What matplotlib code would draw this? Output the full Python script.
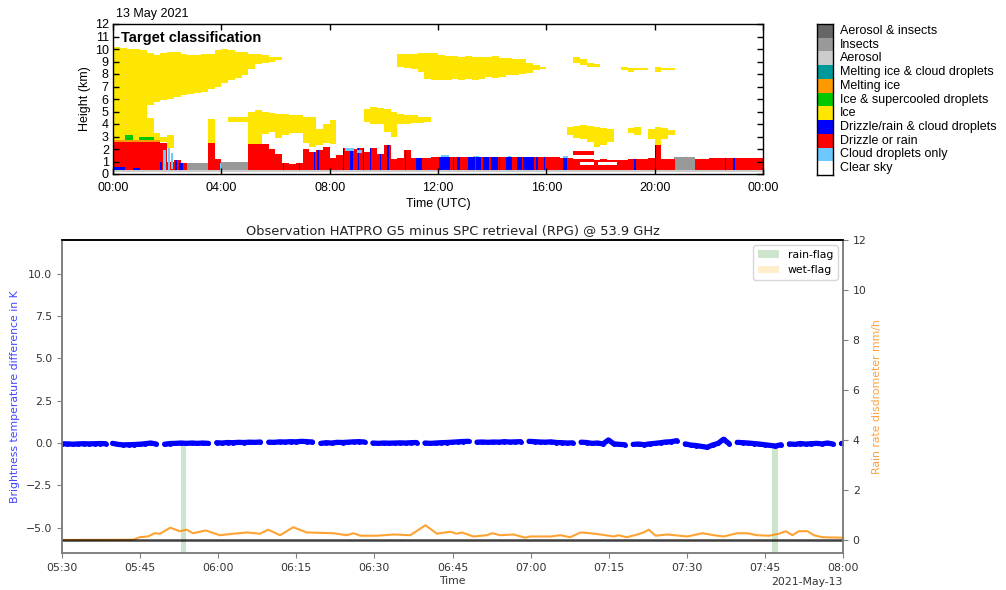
import numpy as np
import matplotlib
matplotlib.use("Agg")
import matplotlib.pyplot as plt
import matplotlib.dates as mdates
from matplotlib.colors import ListedColormap
from matplotlib.patches import Patch

# ======================= TOP PANEL DATA (Cloudnet target classification) =======================
class_labels = ["Clear sky", "Cloud droplets only", "Drizzle or rain",
                "Drizzle/rain & cloud droplets", "Ice", "Ice & supercooled droplets",
                "Melting ice", "Melting ice & cloud droplets", "Aerosol", "Insects",
                "Aerosol & insects"]
class_colors = ["#ffffff", "#6cc8ff", "#ff0000", "#0000ff", "#ffe600", "#00c800",
                "#ff9900", "#009999", "#cccccc", "#999999", "#666666"]

# 15-minute columns, 00:00 ... 23:45 (km)
rain_top = [2.55, 2.55, 2.55, 2.55, 2.55, 2.55, 2.55, 2.50,   # 00:00-01:45
            1.0, 1.1, 0.9, 0, 0, 0, 2.5, 1.2,                 # 02:00-03:45
            0, 0, 0, 0, 2.4, 2.4, 2.4, 2.0,                   # 04:00-05:45
            1.6, 0.9, 0.8, 0.9, 2.0, 1.8, 1.9, 2.2,           # 06:00-07:45
            1.3, 1.5, 2.1, 2.0, 2.1, 1.8, 2.1, 1.6,           # 08:00-09:45
            2.3, 1.2, 1.25, 1.9, 1.25, 1.3, 1.3, 1.35,        # 10:00-11:45
            1.38, 1.4, 1.38, 1.36, 1.4, 1.38, 1.36, 1.38,     # 12:00-13:45
            1.4, 1.38, 1.4, 1.38, 1.36, 1.38, 1.4, 1.38,      # 14:00-15:45
            1.35, 1.35, 1.3, 1.3, 1.2, 1.2, 1.2, 1.15,        # 16:00-17:45
            1.2, 1.15, 1.15, 1.15, 1.2, 1.2, 1.2, 1.25,       # 18:00-19:45
            2.3, 1.2, 1.2, 0, 0, 0, 1.2, 1.2,                 # 20:00-21:45
            1.25, 1.25, 1.3, 1.3, 1.3, 1.3, 1.3, 1.3]         # 22:00-23:45

nan = np.nan
ice_hi_base = [2.7, 2.7, 2.7, 2.7, 2.7, 5.5, 5.8, 5.9, 6.0, 6.2, 6.3, 6.4, 6.5, 6.6, 6.8, 7.0,
               7.3, 7.5, 7.7, 7.9, 8.4, 8.8, 8.9, 9.0, 9.1,
               nan, nan, nan, nan, nan, nan, nan, nan, nan, nan, nan, nan, nan, nan, nan, nan, nan,
               8.6, 8.5, 8.4, 8.2, 7.6, 7.5, 7.5, 7.5, 7.6, 7.55, 7.6, 7.5, 7.6, 7.8, 7.7, 7.8,
               7.9, 7.9, 8.0, 8.1, 8.3, 8.4,
               nan, nan, nan, nan, 8.9, 8.7, 8.6, 8.6, nan, nan, nan, 8.3, 8.2, 8.3, 8.3, nan,
               8.2, 8.3, 8.3,
               nan, nan, nan, nan, nan, nan, nan, nan, nan, nan, nan, nan, nan]
ice_hi_top = [10.2, 10.1, 10.0, 10.0, 9.9, 9.7, 9.5, 9.7, 9.75, 9.75, 9.6, 9.5, 9.5, 9.6, 9.6, 9.9,
              10.0, 9.9, 9.8, 9.75, 9.6, 9.6, 9.5, 9.4, 9.4,
              nan, nan, nan, nan, nan, nan, nan, nan, nan, nan, nan, nan, nan, nan, nan, nan, nan,
              9.6, 9.6, 9.6, 9.65, 9.7, 9.7, 9.5, 9.45, 9.45, 9.4, 9.45, 9.4, 9.4, 9.4, 9.45, 9.3,
              9.25, 9.2, 9.2, 8.9, 8.7, 8.6,
              nan, nan, nan, nan, 9.4, 9.2, 8.9, 8.8, nan, nan, nan, 8.6, 8.5, 8.5, 8.45, nan,
              8.6, 8.5, 8.45,
              nan, nan, nan, nan, nan, nan, nan, nan, nan, nan, nan, nan, nan]
ice_mid_base = [nan, nan, nan, nan, nan, 2.7, 2.7, 2.6, 2.1, nan, nan, nan, nan, nan, 2.5, nan,
                nan, 4.15, 4.15, 4.2, 2.4, 2.4, 3.2, 3.4, 2.9, 3.1, 3.3, 3.3, 2.5, 2.2, 2.3, 2.5,
                2.4, nan, nan, nan, nan, 4.2, 4.0, 4.0, 3.4, 3.0, 4.0, 4.0, 4.1, 4.1, 4.2,
                nan, nan, nan, nan, nan, nan, nan, nan, nan, nan, nan, nan, nan, nan, nan, nan,
                nan, nan, nan, nan,
                3.1, 2.9, 2.8, 2.6, 2.2, 2.3, 2.6, nan, nan, 3.3, 3.1, nan, 2.8, 2.3, 2.8, 3.1,
                nan, nan, nan, nan, nan, nan, nan, nan, nan, nan, nan, nan, nan]
ice_mid_top = [nan, nan, nan, nan, nan, 4.5, 3.3, 3.0, 3.1, nan, nan, nan, nan, nan, 4.4, nan,
               nan, 4.55, 4.6, 4.6, 5.0, 5.1, 5.0, 4.9, 4.8, 4.8, 4.75, 4.7, 4.6, 4.6, 3.6, 4.0,
               4.3, nan, nan, nan, nan, 5.2, 5.4, 5.3, 5.2, 5.0, 4.8, 4.75, 4.7, 4.6, 4.6,
               nan, nan, nan, nan, nan, nan, nan, nan, nan, nan, nan, nan, nan, nan, nan, nan,
               nan, nan, nan, nan,
               3.8, 3.85, 3.9, 3.85, 3.8, 3.7, 3.6, nan, nan, 3.7, 3.8, nan, 3.6, 3.8, 3.7, 3.5,
               nan, nan, nan, nan, nan, nan, nan, nan, nan, nan, nan, nan, nan]

aerosol_base, aerosol_top = 0.2, 0.3
insect_start = [2.65, 3.75, 8.0, 20.7]
insect_end = [3.5, 5.1, 8.15, 21.5]
insect_top = [0.85, 0.95, 0.9, 1.35]

extra_rain = [(17.0, 17.75, 1.5, 1.85)]
clear_holes = [(17.25, 17.75, 0.7, 1.0), (17.9, 18.6, 0.75, 0.95)]

# drizzle/rain & cloud droplets columns (start h, end h, top km)
blue_start = [0.05, 0.75, 1.75, 2.3, 2.45, 6.28, 6.88, 7.18, 7.43, 7.55, 8.48, 8.75, 9.05, 9.23,
              9.48, 9.85, 10.1, 10.28, 10.77, 11.2, 12.05, 12.55, 12.7, 13.1, 13.4, 13.65, 13.95,
              14.25, 14.5, 14.9, 15.15, 15.62, 15.9, 16.6, 19.25, 20.0, 22.6, 22.9]
blue_end = [0.45, 1.0, 1.82, 2.36, 2.6, 6.32, 6.92, 7.22, 7.47, 7.6, 8.53, 8.85, 9.1, 9.27,
            9.52, 9.9, 10.18, 10.32, 10.82, 11.42, 12.45, 12.6, 12.8, 13.35, 13.6, 13.9, 14.2,
            14.3, 14.75, 15.1, 15.55, 15.68, 15.95, 16.75, 19.3, 20.05, 22.63, 22.95]
blue_top = [0.6, 0.5, 1.0, 1.2, 0.9] + [5.0] * 33

droplet_spans = [(1.85, 1.95, 0.3, 1.9), (2.03, 2.1, 0.3, 2.1), (2.15, 2.22, 0.4, 1.7),
                 (3.95, 4.0, 0.3, 0.9), (8.55, 8.9, 1.85, 2.1), (9.0, 9.2, 1.7, 1.95),
                 (12.1, 12.4, 1.38, 1.5), (13.3, 13.5, 1.36, 1.46), (14.6, 14.7, 1.36, 1.45),
                 (16.6, 16.8, 1.3, 1.45)]
melting_spans = [(0.0, 1.75, 2.55, 2.7)]
supercooled_spans = [(0.45, 0.75, 2.7, 3.1), (0.95, 1.5, 2.7, 3.0)]

# ======================= BOTTOM PANEL DATA =======================
# brightness temperature difference (K); segments start at minutes after 05:30
tb_seg_start = [0, 9.7, 19.7, 29.7, 39.7, 49.7, 59.7, 69.7, 79.7, 89.7, 99.7, 109.7, 119.7,
                129.7, 139.7, 149.7]
tb_values = [
    [-0.05, -0.05, -0.07, -0.05, -0.04, -0.05, -0.04, -0.03, -0.04],
    [-0.02, -0.08, -0.11, -0.10, -0.09, -0.07, -0.04, 0.00, -0.06],
    [-0.07, -0.03, -0.02, 0.00, -0.02, 0.00, -0.02, 0.00, -0.02],
    [0.02, 0.00, 0.03, 0.02, 0.04, 0.03, 0.05, 0.04, 0.06],
    [0.05, 0.04, 0.07, 0.06, 0.08, 0.07, 0.10, 0.08, 0.06],
    [-0.02, 0.02, 0.00, 0.04, 0.03, 0.05, 0.07, 0.08, 0.06],
    [0.00, -0.02, 0.00, -0.01, 0.00, 0.01, 0.00, 0.02, 0.03],
    [0.00, -0.02, 0.00, 0.02, 0.03, 0.05, 0.07, 0.09, 0.10],
    [0.05, 0.06, 0.04, 0.06, 0.05, 0.08, 0.06, 0.07, 0.08],
    [0.10, 0.08, 0.06, 0.05, 0.07, 0.03, 0.02, 0.00, 0.01],
    [0.05, 0.03, -0.02, 0.00, -0.05, 0.18, -0.05, -0.08, -0.10],
    [-0.08, -0.06, -0.10, -0.05, -0.02, 0.02, 0.06, 0.08, 0.14],
    [-0.05, -0.12, -0.15, -0.20, -0.25, -0.12, -0.02, 0.22, -0.03],
    [0.04, 0.02, 0.00, -0.03, -0.06, -0.10, -0.14, -0.18, -0.10],
    [-0.05, -0.08, -0.03, -0.06, -0.04, -0.02, -0.05, 0.00, -0.06],
    [0.00, 0.00],
]
tb_seg_length = 8.4  # minutes of each scan block

rr_min = [0, 13.7, 14.9, 16.5, 17.8, 18.8, 20.8, 22.6, 23.9, 25.2, 27.6, 30.3, 32.9, 35.5, 38.0,
          39.6, 41.9, 44.4, 47.0, 52.1, 54.7, 56.0, 57.3, 60.5, 63.7, 66.9, 69.8, 72.0, 74.6,
          75.8, 76.8, 79.0, 81.6, 82.6, 84.2, 86.7, 89.0, 89.9, 93.8, 95.7, 97.6, 99.6, 101.5,
          103.4, 106.0, 106.9, 108.5, 110.5, 111.7, 112.7, 114.0, 116.2, 120.1, 123.0, 125.2,
          127.1, 129.7, 131.6, 133.5, 135.8, 137.7, 139.0, 140.3, 141.5, 143.2, 144.4, 146.0, 150]
rr_val = [0.02, 0.03, 0.13, 0.16, 0.29, 0.27, 0.51, 0.37, 0.43, 0.29, 0.40, 0.21, 0.27, 0.32,
          0.27, 0.43, 0.21, 0.53, 0.32, 0.29, 0.21, 0.29, 0.19, 0.19, 0.24, 0.21, 0.61, 0.27,
          0.35, 0.27, 0.32, 0.16, 0.21, 0.29, 0.21, 0.24, 0.11, 0.16, 0.16, 0.21, 0.13, 0.32,
          0.29, 0.24, 0.16, 0.21, 0.13, 0.24, 0.32, 0.43, 0.19, 0.24, 0.16, 0.29, 0.21, 0.16,
          0.29, 0.29, 0.21, 0.19, 0.27, 0.37, 0.21, 0.37, 0.37, 0.21, 0.13, 0.11]
rain_flag_start = [22.8, 136.4]
rain_flag_end = [23.8, 137.6]

# ======================= FIGURE =======================
W, H = 1006, 590
fig = plt.figure(figsize=(W / 100, H / 100), dpi=100)

# ---- build classification grid ----
nt, nz = 1440, 240
t_c = (np.arange(nt) + 0.5) * 24.0 / nt
z_c = (np.arange(nz) + 0.5) * 12.0 / nz
T, Z = np.meshgrid(t_c, z_c)
grid = np.zeros((nz, nt), dtype=int)


def fill(t0, t1, z0, z1, cat, only=None):
    m = (T >= t0) & (T < t1) & (Z >= z0) & (Z < z1)
    if only is not None:
        m &= np.isin(grid, only)
    grid[m] = cat


fill(0, 24, aerosol_base, aerosol_top, 8)
for s, e, tp in zip(insect_start, insect_end, insect_top):
    fill(s, e, aerosol_top, tp, 9)
for i, tp in enumerate(rain_top):
    if tp > 0:
        fill(i * 0.25, (i + 1) * 0.25, aerosol_top, tp, 2)
for s, e, b, tp in extra_rain:
    fill(s, e, b, tp, 2)
for s, e, b, tp in clear_holes:
    fill(s, e, b, tp, 0)
for s, e, tp in zip(blue_start, blue_end, blue_top):
    fill(s, e, aerosol_top, tp, 3, only=[2])
for s, e, b, tp in droplet_spans:
    fill(s, e, b, tp, 1)
for i in range(len(ice_hi_base)):
    if not np.isnan(ice_hi_base[i]):
        fill(i * 0.25, (i + 1) * 0.25, ice_hi_base[i], ice_hi_top[i], 4)
    if not np.isnan(ice_mid_base[i]):
        fill(i * 0.25, (i + 1) * 0.25, ice_mid_base[i], ice_mid_top[i], 4)
for s, e, b, tp in melting_spans:
    fill(s, e, b, tp, 6)
for s, e, b, tp in supercooled_spans:
    fill(s, e, b, tp, 5)

cmap = ListedColormap(class_colors)
tfont = "Liberation Sans"
ax_t = fig.add_axes([113 / W, 1 - 174 / H, 650 / W, 150 / H])
ax_t.imshow(grid, origin="lower", extent=[0, 24, 0, 12], aspect="auto", cmap=cmap,
            vmin=-0.5, vmax=10.5, interpolation="nearest")
ax_t.set_xlim(0, 24)
ax_t.set_ylim(0, 12)
ax_t.set_xticks(range(0, 25, 4))
ax_t.set_xticklabels(["00:00", "04:00", "08:00", "12:00", "16:00", "20:00", "00:00"],
                     fontfamily=tfont, fontsize=9)
ax_t.set_yticks(range(13))
ax_t.set_yticklabels([str(v) for v in range(13)], fontfamily=tfont, fontsize=9)
ax_t.tick_params(direction="in", top=True, right=True, length=4, width=1)
ax_t.tick_params(axis="x", pad=6)
ax_t.tick_params(axis="y", pad=3)
ax_t.set_xlabel("Time (UTC)", fontfamily=tfont, fontsize=9, labelpad=3)
ax_t.set_ylabel("Height (km)", fontfamily=tfont, fontsize=9, labelpad=3)
for sp in ax_t.spines.values():
    sp.set_linewidth(1.0)
ax_t.text(0.012, 0.905, "Target classification", transform=ax_t.transAxes,
          fontfamily=tfont, fontsize=10.5, fontweight="bold", va="center", ha="left")
fig.text(116 / W, 1 - 14 / H, "13 May 2021", fontfamily=tfont, fontsize=9,
         va="center", ha="left")

# legend colour bar
ax_l = fig.add_axes([817 / W, 1 - 175 / H, 16 / W, 151 / H])
ax_l.imshow(np.arange(len(class_labels))[::-1].reshape(-1, 1), cmap=cmap, vmin=-0.5,
            vmax=10.5, aspect="auto", extent=[0, 1, 0, len(class_labels)],
            interpolation="nearest")
ax_l.set_xticks([])
ax_l.set_yticks([])
for sp in ax_l.spines.values():
    sp.set_linewidth(1.0)
for k, lab in enumerate(class_labels):
    ax_l.text(1.45, k + 0.5, lab, fontfamily=tfont, fontsize=9, va="center", ha="left",
              clip_on=False)

# ---- bottom panel ----
t_base = np.datetime64("2021-05-13T05:30:00")


def to_num(mins):
    arr = t_base + (np.asarray(mins, dtype=float) * 60).astype("timedelta64[s]")
    return mdates.date2num(arr)


ylo, yhi = -6.5, 12
ax = fig.add_axes([62 / W, 1 - 553 / H, 781 / W, 313 / H])
ax.set_xlim(to_num(0), to_num(150))
ax.set_ylim(ylo, yhi)
for s, e in zip(rain_flag_start, rain_flag_end):
    ax.axvspan(to_num(s), to_num(e), ymin=0, ymax=(0 - ylo) / (yhi - ylo),
               color="green", alpha=0.2, lw=0)
for st, vals in zip(tb_seg_start, tb_values):
    n = len(vals)
    mins = st + np.linspace(0, tb_seg_length if n > 2 else 0.3, n)
    ax.plot(to_num(mins), vals, color="blue", lw=3.8, marker=".", ms=5,
            solid_capstyle="round", zorder=3)

ax2 = ax.twinx()
ax2.set_ylim(-0.5, 12)
ax2.plot(to_num(rr_min), rr_val, color="darkorange", alpha=0.8, lw=1.5)
ax2.axhline(0, color="black", lw=1.8, alpha=0.75)
ax2.set_xlim(to_num(0), to_num(150))

loc = mdates.MinuteLocator(byminute=[0, 15, 30, 45])
ax.xaxis.set_major_locator(loc)
ax.xaxis.set_major_formatter(mdates.ConciseDateFormatter(loc))

lab_fs = 7.8
ax.set_title("Observation HATPRO G5 minus SPC retrieval (RPG) @ 53.9 GHz", fontsize=9.4,
             color="#222222", pad=4)
ax.set_xlabel("Time", fontsize=lab_fs, color="#333333", labelpad=2)
ax.set_ylabel("Brightness temperature difference in K", fontsize=lab_fs, color="#4444ff")
ax2.set_ylabel("Rain rate disdrometer mm/h", fontsize=lab_fs, color="#ffa040")
for a in (ax, ax2):
    a.tick_params(labelsize=lab_fs, colors="#333333", length=3.5)
    a.tick_params(color="#808080")
    for name, sp in a.spines.items():
        sp.set_color("black" if name == "top" else "#808080")
        sp.set_linewidth(1.2)
ax.xaxis.get_offset_text().set_fontsize(lab_fs)
ax.xaxis.get_offset_text().set_color("#333333")

handles = [Patch(facecolor="green", alpha=0.2, label="rain-flag"),
           Patch(facecolor="orange", alpha=0.2, label="wet-flag")]
ax2.legend(handles=handles, loc="upper right", fontsize=lab_fs, framealpha=0.8)

fig.savefig("out.png", dpi=100)
